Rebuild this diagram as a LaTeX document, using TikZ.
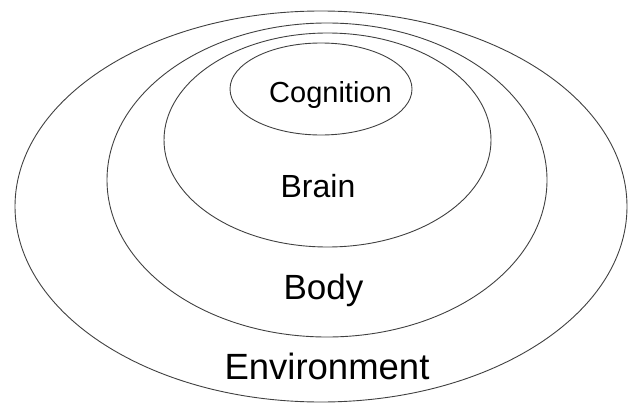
\documentclass[tikz,border=0pt]{standalone}
\usepackage{fontspec}
\setmainfont{Liberation Sans}
\usetikzlibrary{shapes.geometric}
\begin{document}
\begin{tikzpicture}[x=1pt,y=-1pt,
  ring/.style={draw=black!75, line width=0.9pt, ellipse, inner sep=0pt},
  lbl/.style={anchor=base, inner sep=0pt, text=black}]
\useasboundingbox (0,0) rectangle (631,404);
\node[ring, minimum width=612pt, minimum height=391pt] (env) at (321,206.5) {};
\node[ring, minimum width=440pt, minimum height=314pt] (body) at (327,180) {};
\node[ring, minimum width=327pt, minimum height=214pt] (brain) at (327.5,140) {};
\node[ring, minimum width=182pt, minimum height=92pt] (cog) at (321,89) {};
\node[lbl, font=\fontsize{29}{32}\selectfont] (tcog) at (330.5,102) {Cognition};
\node[lbl, font=\fontsize{32}{36}\selectfont] (tbrain) at (318,197) {Brain};
\node[lbl, font=\fontsize{35}{40}\selectfont] (tbody) at (323.5,299) {Body};
\node[lbl, font=\fontsize{36.5}{42}\selectfont] (tenv) at (327,379) {Environment};
\end{tikzpicture}
\end{document}
